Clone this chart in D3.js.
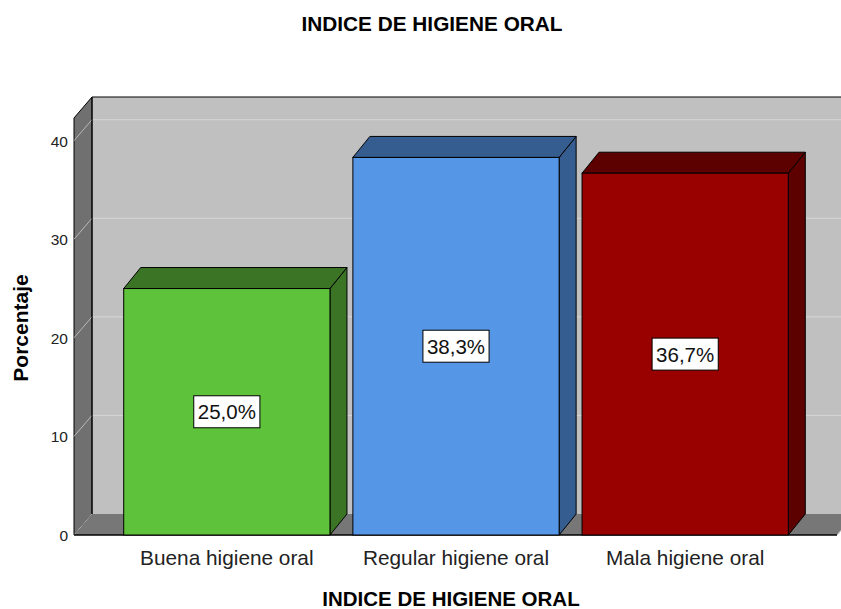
<!DOCTYPE html>
<html>
<head>
<meta charset="utf-8">
<script src="https://cdn.jsdelivr.net/npm/d3@7"></script>
<style>
  html, body { margin: 0; padding: 0; background: #ffffff; }
  svg { display: block; font-family: "Liberation Sans", Arial, sans-serif; }
</style>
</head>
<body>
<svg id="chart" width="841" height="609"></svg>
<script>
// ---- data ----
const categories = ["Buena higiene oral", "Regular higiene oral", "Mala higiene oral"];
const values = [25.0, 38.3, 36.7];
const valueLabels = ["25,0%", "38,3%", "36,7%"];
const frontColors = ["#5ec23b", "#5596e6", "#990000"];
const darkColors = ["#3b7424", "#355d90", "#5c0000"];
const yTicks = [0, 10, 20, 30, 40];
const yMax = 42.3;
const title = "INDICE DE HIGIENE ORAL";
const xTitle = "INDICE DE HIGIENE ORAL";
const yTitle = "Porcentaje";

// ---- layout ----
const svg = d3.select("#chart");
const frontLeft = 74, frontRight = 837;
const depthX = 18, depthY = -21;      // wall depth offset
const barDX = 17, barDY = -21;         // bar depth offset

const y = d3.scaleLinear().domain([0, yMax]).range([535, 118]);
const x = d3.scaleBand().domain(categories)
  .range([112.25, 799.75]).paddingInner(0.1).paddingOuter(0.05);

const y0 = y(0), yTop = y(yMax);
const line = d3.line();

// back wall
svg.append("rect")
  .attr("x", frontLeft + depthX).attr("y", yTop + depthY)
  .attr("width", (frontRight + depthX) - (frontLeft + depthX))
  .attr("height", y0 - yTop)
  .attr("fill", "#c0c0c0");

// back wall gridlines
svg.append("g").selectAll("line").data(yTicks.filter(d => d > 0)).join("line")
  .attr("x1", frontLeft + depthX).attr("x2", frontRight + depthX)
  .attr("y1", d => y(d) + depthY).attr("y2", d => y(d) + depthY)
  .attr("stroke", "#d6d6d6").attr("stroke-width", 1);

// floor
svg.append("path")
  .attr("d", line([[frontLeft, y0], [frontLeft + depthX, y0 + depthY],
                   [frontRight + depthX, y0 + depthY], [frontRight, y0]]) + "Z")
  .attr("fill", "#777777");

// left wall
svg.append("path")
  .attr("d", line([[frontLeft, y0], [frontLeft + depthX, y0 + depthY],
                   [frontLeft + depthX, yTop + depthY], [frontLeft, yTop]]) + "Z")
  .attr("fill", "#707070").attr("stroke", "#000").attr("stroke-width", 1);

// left wall diagonal gridlines
svg.append("g").selectAll("line").data(yTicks).join("line")
  .attr("x1", frontLeft).attr("x2", frontLeft + depthX)
  .attr("y1", d => y(d)).attr("y2", d => y(d) + depthY)
  .attr("stroke", "#b8b8b8").attr("stroke-width", 1);

// floor right diagonal
svg.append("line")
  .attr("x1", frontRight).attr("y1", y0)
  .attr("x2", frontRight + depthX).attr("y2", y0 + depthY)
  .attr("stroke", "#b8b8b8");

// edges
svg.append("line").attr("x1", frontLeft + depthX).attr("x2", frontLeft + depthX)
  .attr("y1", yTop + depthY).attr("y2", y0 + depthY).attr("stroke", "#000");
svg.append("line").attr("x1", frontLeft + depthX).attr("x2", 841)
  .attr("y1", yTop + depthY).attr("y2", yTop + depthY).attr("stroke", "#000");
svg.append("line").attr("x1", frontLeft).attr("x2", frontRight)
  .attr("y1", y0).attr("y2", y0).attr("stroke", "#000").attr("stroke-width", 1.5);

// y tick labels
svg.append("g").selectAll("text").data(yTicks).join("text")
  .attr("x", frontLeft - 6).attr("y", d => y(d) + 6)
  .attr("text-anchor", "end").attr("font-size", 15.5).attr("fill", "#222")
  .text(d => d);

// bars
const data = categories.map((c, i) => ({ c, v: values[i], lab: valueLabels[i], fc: frontColors[i], dc: darkColors[i] }));
const bars = svg.append("g").selectAll("g").data(data).join("g");
bars.append("path")   // side
  .attr("d", d => {
    const x1 = x(d.c) + x.bandwidth(), yt = y(d.v);
    return line([[x1, yt], [x1 + barDX, yt + barDY], [x1 + barDX, y0 + barDY], [x1, y0]]) + "Z";
  })
  .attr("fill", d => d.dc).attr("stroke", "#000").attr("stroke-width", 1);
bars.append("path")   // top
  .attr("d", d => {
    const x0 = x(d.c), x1 = x0 + x.bandwidth(), yt = y(d.v);
    return line([[x0, yt], [x0 + barDX, yt + barDY], [x1 + barDX, yt + barDY], [x1, yt]]) + "Z";
  })
  .attr("fill", d => d.dc).attr("stroke", "#000").attr("stroke-width", 1);
bars.append("rect")   // front
  .attr("x", d => x(d.c)).attr("y", d => y(d.v))
  .attr("width", x.bandwidth()).attr("height", d => y0 - y(d.v))
  .attr("fill", d => d.fc).attr("stroke", "#000").attr("stroke-width", 1);

// value labels
bars.each(function(d) {
  const g = d3.select(this);
  const cx = x(d.c) + x.bandwidth() / 2, cy = y(d.v / 2);
  const t = g.append("text").attr("x", cx).attr("y", cy + 7.5)
    .attr("text-anchor", "middle").attr("font-size", 20.5).attr("fill", "#111").text(d.lab);
  const bb = t.node().getBBox();
  g.insert("rect", "text")
    .attr("x", cx - bb.width / 2 - 4).attr("y", cy - 16)
    .attr("width", bb.width + 8).attr("height", 32)
    .attr("fill", "#fff").attr("stroke", "#000").attr("stroke-width", 1);
});

// category labels
svg.append("g").selectAll("text").data(categories).join("text")
  .attr("x", d => x(d) + x.bandwidth() / 2).attr("y", 565)
  .attr("text-anchor", "middle").attr("font-size", 20.8).attr("fill", "#222")
  .text(d => d);

// titles
svg.append("text").attr("x", 432).attr("y", 31).attr("text-anchor", "middle")
  .attr("font-size", 20.8).attr("font-weight", "bold").attr("fill", "#000").text(title);
svg.append("text").attr("x", 451).attr("y", 606).attr("text-anchor", "middle")
  .attr("font-size", 20.5).attr("font-weight", "bold").attr("fill", "#000").text(xTitle);
svg.append("text").attr("transform", "translate(28,328) rotate(-90)")
  .attr("text-anchor", "middle")
  .attr("font-size", 21).attr("font-weight", "bold").attr("fill", "#000").text(yTitle);
</script>
</body>
</html>
